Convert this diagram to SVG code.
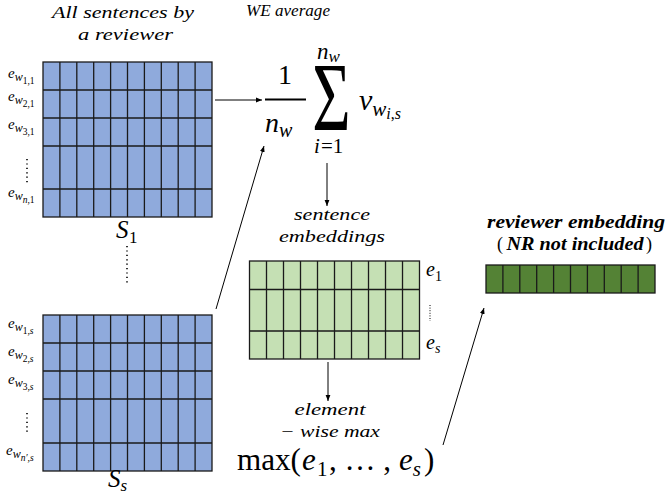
<svg xmlns="http://www.w3.org/2000/svg" width="668" height="500" viewBox="0 0 668 500">
<defs>
<style>
.blue{fill:#8faadc;stroke:#1a1a1a;stroke-width:1.3}
.lg{fill:#c5e0b4;stroke:#1a1a1a;stroke-width:1.3}
.dg{fill:#548235;stroke:#1a1a1a;stroke-width:1.3}
.gl{stroke:#1a1a1a;stroke-width:1.3;fill:none}
.it{font-family:"Liberation Serif","Times New Roman",serif;font-style:italic;fill:#000}
.rm{font-family:"Liberation Serif","Times New Roman",serif;fill:#000}
.conn line{stroke:#000;stroke-width:1;marker-end:url(#ah)}
.dots{stroke:#000;stroke-width:1.6;stroke-dasharray:1.2 3.2}
</style>
<marker id="ah" viewBox="0 0 10 10" refX="10" refY="5" markerWidth="6" markerHeight="6" orient="auto" markerUnits="userSpaceOnUse">
<path d="M0,1 L10,5 L0,9 Z" fill="#000"/>
</marker>
<g id="vcols">
<line x1="16.9" y1="0" x2="16.9" y2="1"/><line x1="33.8" y1="0" x2="33.8" y2="1"/><line x1="50.7" y1="0" x2="50.7" y2="1"/><line x1="67.6" y1="0" x2="67.6" y2="1"/><line x1="84.5" y1="0" x2="84.5" y2="1"/><line x1="101.4" y1="0" x2="101.4" y2="1"/><line x1="118.3" y1="0" x2="118.3" y2="1"/><line x1="135.2" y1="0" x2="135.2" y2="1"/><line x1="152.1" y1="0" x2="152.1" y2="1"/>
</g>
</defs>
<rect width="668" height="500" fill="#fff"/>

<!-- titles -->
<g id="title-sentences">
<text class="it" x="123" y="18" font-size="17" text-anchor="middle" textLength="142" lengthAdjust="spacingAndGlyphs">All sentences by</text>
<text class="it" x="125.5" y="40" font-size="17" text-anchor="middle" textLength="95" lengthAdjust="spacingAndGlyphs">a reviewer</text>
</g>
<g id="title-we">
<text class="it" x="288" y="16" font-size="17" text-anchor="middle" textLength="84" lengthAdjust="spacingAndGlyphs">WE average</text>
</g>

<!-- sentence matrix 1 -->
<g id="matrix-s1">
<rect class="blue" x="43" y="62" width="169" height="155"/>
<g class="gl" transform="translate(43,62) scale(1,155)"><use href="#vcols" style="vector-effect:non-scaling-stroke"/></g>
<line class="gl" x1="43" y1="90" x2="212" y2="90"/>
<line class="gl" x1="43" y1="118" x2="212" y2="118"/>
<line class="gl" x1="43" y1="146" x2="212" y2="146"/>
<line class="gl" x1="43" y1="189" x2="212" y2="189"/>
<text class="it" x="8" y="78" font-size="15">e<tspan font-size="12" dy="3">w</tspan><tspan font-style="normal" font-size="9.5" dy="3">1,1</tspan></text>
<text class="it" x="8" y="101" font-size="15">e<tspan font-size="12" dy="3">w</tspan><tspan font-style="normal" font-size="9.5" dy="3">2,1</tspan></text>
<text class="it" x="8" y="129" font-size="15">e<tspan font-size="12" dy="3">w</tspan><tspan font-style="normal" font-size="9.5" dy="3">3,1</tspan></text>
<line class="dots" x1="27" y1="159" x2="27" y2="183"/>
<text class="it" x="8" y="197" font-size="15">e<tspan font-size="12" dy="3">w</tspan><tspan font-size="9.5" dy="3">n</tspan><tspan font-style="normal" font-size="9.5">,1</tspan></text>
<text class="it" x="116" y="238" font-size="25">S</text>
<text class="rm" x="129" y="243" font-size="17">1</text>
</g>

<line class="dots" x1="127" y1="246" x2="127" y2="284"/>

<!-- sentence matrix s -->
<g id="matrix-ss">
<rect class="blue" x="43" y="315" width="169" height="156"/>
<g class="gl" transform="translate(43,315) scale(1,156)"><use href="#vcols" style="vector-effect:non-scaling-stroke"/></g>
<line class="gl" x1="43" y1="343" x2="212" y2="343"/>
<line class="gl" x1="43" y1="371" x2="212" y2="371"/>
<line class="gl" x1="43" y1="399" x2="212" y2="399"/>
<line class="gl" x1="43" y1="443" x2="212" y2="443"/>
<text class="it" x="8" y="328" font-size="15">e<tspan font-size="12" dy="3">w</tspan><tspan font-style="normal" font-size="9.5" dy="3">1,</tspan><tspan font-size="9.5">s</tspan></text>
<text class="it" x="8" y="356" font-size="15">e<tspan font-size="12" dy="3">w</tspan><tspan font-style="normal" font-size="9.5" dy="3">2,</tspan><tspan font-size="9.5">s</tspan></text>
<text class="it" x="8" y="384" font-size="15">e<tspan font-size="12" dy="3">w</tspan><tspan font-style="normal" font-size="9.5" dy="3">3,</tspan><tspan font-size="9.5">s</tspan></text>
<line class="dots" x1="27" y1="413" x2="27" y2="433"/>
<text class="it" x="6" y="455" font-size="15">e<tspan font-size="12" dy="3">w</tspan><tspan font-size="9.5" dy="3">n′,s</tspan></text>
<text class="it" x="108" y="487" font-size="25">S<tspan font-size="17" dy="4">s</tspan></text>
</g>

<!-- WE average formula -->
<g id="we-average">
<text class="rm" x="285" y="84" font-size="28" text-anchor="middle">1</text>
<line x1="265" y1="99.5" x2="306" y2="99.5" stroke="#000" stroke-width="2"/>
<text class="it" x="265" y="132" font-size="28">n<tspan font-size="20" dy="5">w</tspan></text>
<text class="it" x="317" y="59" font-size="23">n<tspan font-size="17" dy="3">w</tspan></text>
<text class="rm" transform="translate(331.5,130) scale(0.68,1)" font-size="97" text-anchor="middle">Σ</text>
<text class="it" x="314" y="153" font-size="21">i</text>
<text class="rm" x="321" y="153" font-size="21">=1</text>
<text class="it" x="359" y="110" font-size="30">v<tspan font-size="21" dy="6">w</tspan><tspan font-size="16" dy="3">i</tspan><tspan class="rm" font-style="normal" font-size="16">,</tspan><tspan font-size="16">s</tspan></text>
</g>

<!-- sentence embeddings -->
<g id="sentence-embeddings">
<text class="it" x="332" y="220" font-size="17" text-anchor="middle" textLength="76" lengthAdjust="spacingAndGlyphs">sentence</text>
<text class="it" x="332" y="242" font-size="17" text-anchor="middle" textLength="106" lengthAdjust="spacingAndGlyphs">embeddings</text>
<rect class="lg" x="249.5" y="261" width="170" height="98"/>
<g class="gl" transform="translate(249.5,261) scale(1.006,98)"><use href="#vcols" style="vector-effect:non-scaling-stroke"/></g>
<line class="gl" x1="249.5" y1="289.5" x2="419.5" y2="289.5"/>
<line class="gl" x1="249.5" y1="331" x2="419.5" y2="331"/>
<text class="it" x="426" y="276" font-size="20">e</text>
<text class="rm" x="435" y="281" font-size="14">1</text>
<line class="dots" x1="430" y1="305" x2="430" y2="321" style="stroke-width:1;stroke-dasharray:1 1.6"/>
<text class="it" x="426" y="349" font-size="20">e<tspan font-size="14" dy="4">s</tspan></text>
</g>

<!-- element-wise max -->
<g id="elementwise-max">
<text class="it" x="330" y="415" font-size="17" text-anchor="middle" textLength="71" lengthAdjust="spacingAndGlyphs">element</text>
<text class="it" x="330" y="437" font-size="17" text-anchor="middle" textLength="100" lengthAdjust="spacingAndGlyphs">− wise max</text>
<text class="rm" x="237" y="470" font-size="31" textLength="64" lengthAdjust="spacingAndGlyphs">max(</text>
<text class="it" x="302" y="470" font-size="31">e</text>
<text class="rm" x="317" y="476" font-size="21">1</text>
<text class="rm" x="329" y="470" font-size="31" textLength="62">, … ,</text>
<text class="it" x="399" y="470" font-size="31">e<tspan font-size="21" dy="6">s</tspan></text>
<text class="rm" x="424" y="470" font-size="31">)</text>
</g>

<!-- reviewer embedding -->
<g id="reviewer-embedding">
<text class="it" x="576" y="228" font-size="18" font-weight="bold" text-anchor="middle" textLength="178" lengthAdjust="spacingAndGlyphs">reviewer embedding</text>
<text class="rm" x="497" y="250" font-size="18">(</text>
<text class="it" x="575" y="250" font-size="18" font-weight="bold" text-anchor="middle" textLength="137" lengthAdjust="spacingAndGlyphs">NR not included</text>
<text class="rm" x="646" y="250" font-size="18">)</text>
<rect class="dg" x="486" y="265" width="169" height="28"/>
<g class="gl" transform="translate(486,265) scale(1,28)"><use href="#vcols" style="vector-effect:non-scaling-stroke"/></g>
</g>

<!-- connectors -->
<g id="connectors" class="conn">
<line x1="215" y1="100" x2="262" y2="100"/>
<line x1="216" y1="309" x2="264" y2="146"/>
<line x1="327" y1="163" x2="327" y2="206"/>
<line x1="328" y1="362" x2="328" y2="401"/>
<line x1="443" y1="445" x2="484" y2="308"/>
</g>
</svg>
